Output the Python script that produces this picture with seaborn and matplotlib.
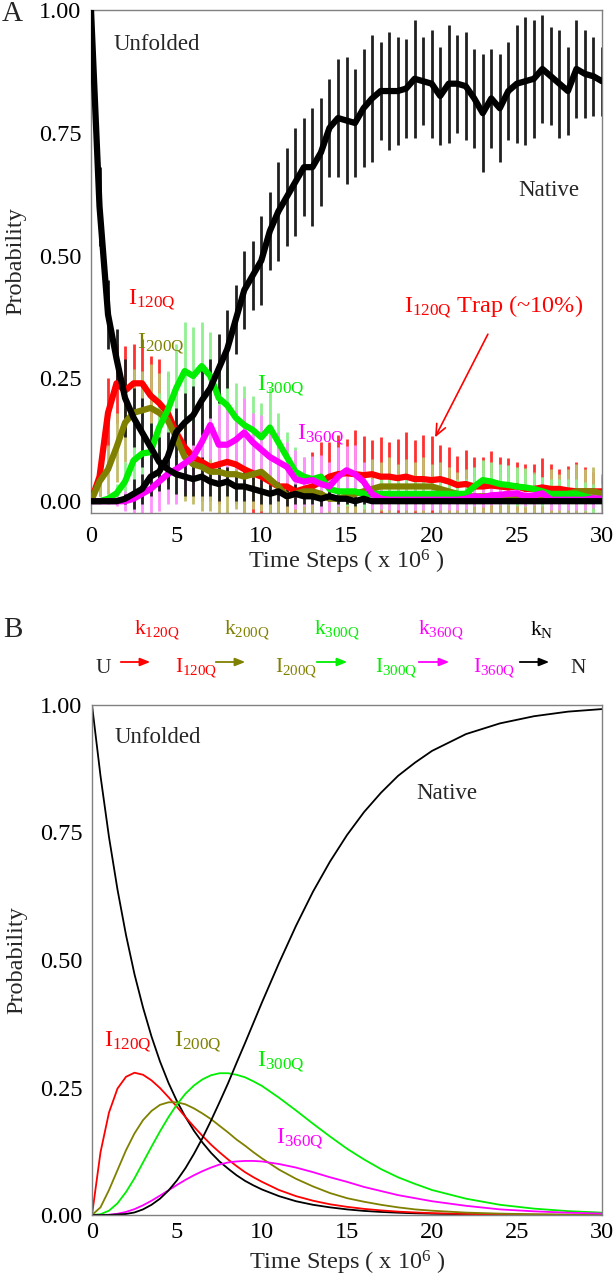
import numpy as np
import matplotlib
matplotlib.use("Agg")
import matplotlib.pyplot as plt
from matplotlib.ticker import FormatStrFormatter
import seaborn as sns

# ---------------- Panel A data (simulation, step 0.5 x 10^6) ----------------
time_a = np.arange(0, 30.01, 0.5)

unfolded_a = [1.00, 0.60, 0.38, 0.29, 0.21, 0.17, 0.14, 0.11, 0.08, 0.065,
              0.055, 0.05, 0.045, 0.05, 0.04, 0.035, 0.04, 0.03, 0.03, 0.025,
              0.02, 0.015, 0.02, 0.01, 0.015, 0.01, 0.01, 0.005, 0.01, 0.005,
              0.005, 0.0, 0.005, 0.0, 0.0, 0.0, 0.0, 0.0, 0.0, 0.0,
              0.0, 0.0, 0.0, 0.0, 0.0, 0.0, 0.0, 0.0, 0.0, 0.0,
              0.0, 0.0, 0.0, 0.0, 0.0, 0.0, 0.0, 0.0, 0.0, 0.0,
              0.0]
unfolded_err = [0.0, 0.08, 0.07, 0.06, 0.08, 0.06, 0.07, 0.05, 0.05, 0.04,
                0.04, 0.04, 0.035, 0.04, 0.03, 0.035, 0.03, 0.03, 0.03, 0.025,
                0.025, 0.02, 0.02, 0.02, 0.02, 0.015, 0.015, 0.015, 0.01, 0.01,
                0.01, 0.01, 0.01, 0.0, 0.0, 0.0, 0.0, 0.0, 0.0, 0.0,
                0.0, 0.0, 0.0, 0.0, 0.0, 0.0, 0.0, 0.0, 0.0, 0.0,
                0.0, 0.0, 0.0, 0.0, 0.0, 0.0, 0.0, 0.0, 0.0, 0.0,
                0.0]

native_a = [0.0, 0.0, 0.0, 0.0, 0.005, 0.015, 0.025, 0.05, 0.06, 0.09,
            0.14, 0.16, 0.175, 0.205, 0.23, 0.27, 0.31, 0.37, 0.43, 0.46,
            0.49, 0.55, 0.59, 0.62, 0.65, 0.68, 0.68, 0.71, 0.76, 0.78,
            0.775, 0.77, 0.80, 0.82, 0.835, 0.835, 0.835, 0.84, 0.86, 0.855,
            0.85, 0.825, 0.85, 0.85, 0.845, 0.82, 0.79, 0.82, 0.80, 0.835,
            0.85, 0.855, 0.86, 0.88, 0.865, 0.85, 0.835, 0.88, 0.87, 0.865,
            0.855]
native_err = [0.0, 0.0, 0.0, 0.0, 0.01, 0.03, 0.03, 0.04, 0.04, 0.05,
              0.05, 0.06, 0.06, 0.07, 0.06, 0.07, 0.08, 0.07, 0.08, 0.07,
              0.09, 0.08, 0.10, 0.10, 0.11, 0.10, 0.12, 0.11, 0.10, 0.12,
              0.13, 0.11, 0.12, 0.13, 0.10, 0.12, 0.11, 0.10, 0.12, 0.09,
              0.11, 0.10, 0.12, 0.10, 0.11, 0.10, 0.12, 0.10, 0.11, 0.10,
              0.12, 0.13, 0.12, 0.11, 0.10, 0.11, 0.09, 0.10, 0.09, 0.08,
              0.07]

i120_a = [0.0, 0.05, 0.18, 0.24, 0.225, 0.24, 0.24, 0.215, 0.20, 0.18,
          0.14, 0.11, 0.09, 0.08, 0.07, 0.075, 0.08, 0.075, 0.065, 0.057,
          0.05, 0.04, 0.03, 0.03, 0.02, 0.025, 0.03, 0.04, 0.05, 0.055,
          0.057, 0.055, 0.053, 0.055, 0.05, 0.05, 0.047, 0.05, 0.045, 0.045,
          0.043, 0.045, 0.04, 0.033, 0.035, 0.03, 0.03, 0.032, 0.03, 0.028,
          0.03, 0.025, 0.025, 0.028, 0.025, 0.025, 0.022, 0.02, 0.02, 0.02,
          0.02]
i120_err = [0.0, 0.04, 0.07, 0.08, 0.09, 0.08, 0.09, 0.08, 0.09, 0.08,
            0.09, 0.08, 0.07, 0.08, 0.07, 0.08, 0.07, 0.08, 0.09, 0.08,
            0.09, 0.08, 0.07, 0.06, 0.07, 0.06, 0.07, 0.08, 0.07, 0.08,
            0.07, 0.09, 0.08, 0.07, 0.08, 0.07, 0.08, 0.09, 0.08, 0.09,
            0.09, 0.07, 0.07, 0.06, 0.07, 0.06, 0.06, 0.07, 0.06, 0.06,
            0.05, 0.05, 0.05, 0.06, 0.05, 0.04, 0.05, 0.06, 0.05, 0.04,
            0.03]

i200_a = [0.0, 0.04, 0.065, 0.11, 0.16, 0.18, 0.185, 0.19, 0.18, 0.165,
          0.13, 0.09, 0.075, 0.07, 0.06, 0.06, 0.055, 0.055, 0.05, 0.055,
          0.06, 0.045, 0.03, 0.01, 0.015, 0.02, 0.02, 0.015, 0.005, 0.005,
          0.01, 0.015, 0.02, 0.025, 0.03, 0.03, 0.03, 0.03, 0.03, 0.03,
          0.03, 0.025, 0.02, 0.015, 0.01, 0.01, 0.01, 0.01, 0.01, 0.01,
          0.01, 0.01, 0.01, 0.01, 0.01, 0.01, 0.015, 0.02, 0.02, 0.02,
          0.015]
i200_err = [0.0, 0.03, 0.05, 0.07, 0.08, 0.09, 0.08, 0.09, 0.08, 0.09,
            0.08, 0.09, 0.08, 0.09, 0.08, 0.09, 0.08, 0.07, 0.08, 0.07,
            0.08, 0.07, 0.06, 0.05, 0.06, 0.05, 0.06, 0.05, 0.06, 0.05,
            0.05, 0.06, 0.045, 0.06, 0.05, 0.06, 0.045, 0.055, 0.05, 0.06,
            0.045, 0.055, 0.05, 0.045, 0.055, 0.04, 0.055, 0.045, 0.05, 0.04,
            0.055, 0.045, 0.05, 0.04, 0.055, 0.045, 0.05, 0.055, 0.045, 0.05,
            0.04]

i300_a = [0.0, 0.0, 0.005, 0.016, 0.04, 0.083, 0.097, 0.10, 0.15, 0.185,
          0.23, 0.265, 0.255, 0.275, 0.255, 0.21, 0.195, 0.17, 0.155, 0.145,
          0.13, 0.15, 0.12, 0.09, 0.06, 0.05, 0.045, 0.05, 0.025, 0.02,
          0.02, 0.02, 0.015, 0.015, 0.015, 0.015, 0.015, 0.015, 0.015, 0.015,
          0.015, 0.015, 0.015, 0.015, 0.015, 0.03, 0.043, 0.04, 0.035, 0.033,
          0.03, 0.028, 0.025, 0.02, 0.015, 0.015, 0.015, 0.015, 0.01, 0.005,
          0.005]
i300_err = [0.0, 0.005, 0.01, 0.02, 0.04, 0.05, 0.06, 0.06, 0.07, 0.08,
            0.09, 0.10, 0.10, 0.09, 0.09, 0.08, 0.08, 0.07, 0.08, 0.07,
            0.07, 0.08, 0.06, 0.05, 0.05, 0.04, 0.04, 0.04, 0.03, 0.03,
            0.03, 0.03, 0.03, 0.03, 0.03, 0.03, 0.03, 0.03, 0.03, 0.03,
            0.03, 0.03, 0.03, 0.03, 0.03, 0.04, 0.04, 0.04, 0.04, 0.04,
            0.04, 0.04, 0.03, 0.03, 0.03, 0.03, 0.03, 0.03, 0.03, 0.03,
            0.03]

i360_a = [0.0, 0.0, 0.0, 0.0, 0.0, 0.005, 0.015, 0.025, 0.04, 0.055,
          0.065, 0.077, 0.09, 0.12, 0.155, 0.115, 0.115, 0.125, 0.14, 0.12,
          0.105, 0.09, 0.08, 0.07, 0.045, 0.04, 0.043, 0.035, 0.03, 0.05,
          0.063, 0.055, 0.04, 0.015, 0.005, 0.003, 0.003, 0.003, 0.003, 0.003,
          0.003, 0.003, 0.003, 0.003, 0.005, 0.01, 0.008, 0.012, 0.013, 0.015,
          0.016, 0.01, 0.012, 0.016, 0.003, 0.003, 0.003, 0.003, 0.003, 0.006,
          0.005]
i360_err = [0.0, 0.0, 0.0, 0.01, 0.02, 0.03, 0.04, 0.05, 0.06, 0.06,
            0.07, 0.06, 0.07, 0.08, 0.07, 0.08, 0.07, 0.06, 0.07, 0.06,
            0.07, 0.06, 0.06, 0.05, 0.06, 0.05, 0.05, 0.06, 0.05, 0.06,
            0.05, 0.06, 0.04, 0.03, 0.02, 0.02, 0.02, 0.02, 0.02, 0.02,
            0.02, 0.02, 0.02, 0.02, 0.02, 0.02, 0.02, 0.02, 0.02, 0.02,
            0.02, 0.02, 0.02, 0.02, 0.02, 0.02, 0.02, 0.02, 0.02, 0.02,
            0.02]

# ---------------- Panel B data (kinetic model curves) ----------------
time_b = [0, 0.5, 1, 1.5, 2, 2.5, 3, 3.5, 4, 4.5, 5, 5.5, 6, 6.5, 7, 7.5, 8, 8.5, 9, 9.5, 10,
          11, 12, 13, 14, 15, 16, 17, 18, 19, 20, 22, 24, 26, 28, 30]
unfolded_b = [1.000, 0.861, 0.741, 0.638, 0.549, 0.472, 0.407, 0.350, 0.301, 0.259, 0.223,
              0.192, 0.165, 0.142, 0.122, 0.105, 0.091, 0.078, 0.067, 0.058, 0.050,
              0.037, 0.027, 0.020, 0.015, 0.011, 0.008, 0.006, 0.0045, 0.0033, 0.0025,
              0.0014, 0.0007, 0.0004, 0.0002, 0.0001]
i120_b = [0.0, 0.123, 0.201, 0.248, 0.271, 0.279, 0.275, 0.264, 0.249, 0.231, 0.212,
          0.192, 0.173, 0.155, 0.138, 0.123, 0.109, 0.096, 0.084, 0.074, 0.065,
          0.049, 0.037, 0.028, 0.021, 0.016, 0.012, 0.009, 0.0066, 0.005, 0.0037,
          0.002, 0.0011, 0.0006, 0.0003, 0.0002]
i200_b = [0.0, 0.015, 0.049, 0.088, 0.127, 0.160, 0.186, 0.204, 0.216, 0.221, 0.221,
          0.217, 0.209, 0.199, 0.188, 0.175, 0.162, 0.148, 0.136, 0.123, 0.111,
          0.089, 0.071, 0.056, 0.043, 0.033, 0.026, 0.020, 0.015, 0.011, 0.0084,
          0.0047, 0.0027, 0.0015, 0.0008, 0.0005]
i300_b = [0.0, 0.0015, 0.0085, 0.023, 0.045, 0.072, 0.103, 0.134, 0.164, 0.192, 0.217,
          0.238, 0.254, 0.266, 0.274, 0.278, 0.278, 0.275, 0.270, 0.262, 0.253,
          0.230, 0.205, 0.179, 0.154, 0.130, 0.109, 0.090, 0.074, 0.061, 0.049,
          0.032, 0.020, 0.0125, 0.0076, 0.0046]
i360_b = [0.0, 0.0001, 0.0006, 0.0024, 0.006, 0.0115, 0.019, 0.028, 0.038, 0.0485, 0.059,
          0.069, 0.078, 0.086, 0.093, 0.099, 0.103, 0.105, 0.106, 0.106, 0.105,
          0.100, 0.093, 0.084, 0.074, 0.065, 0.055, 0.047, 0.039, 0.033, 0.027,
          0.018, 0.011, 0.0072, 0.0045, 0.0028]
native_b = [0.0, 0.0, 0.0001, 0.001, 0.002, 0.005, 0.011, 0.020, 0.032, 0.048, 0.068,
            0.092, 0.120, 0.151, 0.185, 0.221, 0.258, 0.298, 0.337, 0.377, 0.417,
            0.494, 0.567, 0.634, 0.693, 0.745, 0.790, 0.828, 0.861, 0.887, 0.910,
            0.943, 0.964, 0.978, 0.987, 0.992]

x_ticks = [0, 5, 10, 15, 20, 25, 30]
y_ticks = [0.0, 0.25, 0.50, 0.75, 1.00]

# ---------------- Style ----------------
sns.set_style("white")
plt.rcParams['font.family'] = ['Liberation Serif', 'DejaVu Serif']
plt.rcParams['mathtext.fontset'] = 'custom'
plt.rcParams['mathtext.rm'] = 'Liberation Serif'
plt.rcParams['mathtext.it'] = 'Liberation Serif:italic'

RED = '#ff0000'
OLIVE = '#808000'
GREEN = '#00ee00'
MAGENTA = '#ff00ff'

W, H = 615, 1280
fig = plt.figure(figsize=(W / 100, H / 100), dpi=100)
axA = fig.add_axes([91 / W, 1 - 513 / H, (602 - 91) / W, (513 - 10) / H])
axB = fig.add_axes([92 / W, 1 - 1215 / H, (602 - 92) / W, (1215 - 705) / H])


def sub(base, s):
    return base + r'$_{\mathregular{' + s + '}}$'


LAB = 17.5  # size of species labels inside panels

# ---------------- Panel A ----------------
series_a = [
    (i120_a, i120_err, RED, '#ff3030'),
    (i200_a, i200_err, OLIVE, '#c2bb6a'),
    (i300_a, i300_err, GREEN, '#90f090'),
    (i360_a, i360_err, MAGENTA, '#ff90ff'),
    (unfolded_a, unfolded_err, 'black', '#202020'),
    (native_a, native_err, 'black', '#202020'),
]
for vals, err, _, ecol in series_a:
    v = np.asarray(vals)
    e = np.asarray(err)
    axA.vlines(time_a, v - e, v + e, colors=ecol, linewidth=2.0, zorder=2)
for vals, err, col, _ in series_a:
    sns.lineplot(x=time_a, y=vals, ax=axA, color=col, linewidth=4.5,
                 errorbar=None, legend=False, zorder=3,
                 solid_capstyle='round', solid_joinstyle='round')

axA.set_ylim(-0.024, 1.0)
axA.text(1.3, 0.93, 'Unfolded', fontsize=16.5, va='center', ha='left')
axA.text(25.1, 0.632, 'Native', fontsize=16.5, va='center', ha='left')
axA.text(2.2, 0.41, sub('I', '120Q'), color=RED, fontsize=LAB, va='center')
axA.text(2.7, 0.32, sub('I', '200Q'), color=OLIVE, fontsize=LAB, va='center')
axA.text(9.75, 0.235, sub('I', '300Q'), color=GREEN, fontsize=LAB, va='center')
axA.text(12.1, 0.135, sub('I', '360Q'), color=MAGENTA, fontsize=LAB, va='center')
axA.text(18.35, 0.395, sub('I', '120Q') + ' Trap (~10%)', color=RED, fontsize=LAB, va='center')
axA.annotate('', xy=(20.2, 0.13), xytext=(23.3, 0.34),
             arrowprops=dict(arrowstyle='->,head_length=0.8,head_width=0.35',
                             color=RED, lw=1.2, shrinkA=0, shrinkB=0))

# ---------------- Panel B ----------------
for vals, col in [(unfolded_b, 'black'), (i120_b, RED), (i200_b, OLIVE),
                  (i300_b, GREEN), (i360_b, MAGENTA), (native_b, 'black')]:
    sns.lineplot(x=time_b, y=vals, ax=axB, color=col, linewidth=1.3,
                 errorbar=None, legend=False)
axB.set_ylim(0, 1.0)
axB.text(1.35, 0.937, 'Unfolded', fontsize=16.5, va='center', ha='left')
axB.text(19.1, 0.827, 'Native', fontsize=16.5, va='center', ha='left')
axB.text(0.7, 0.34, sub('I', '120Q'), color=RED, fontsize=LAB, va='center')
axB.text(4.8, 0.34, sub('I', '200Q'), color=OLIVE, fontsize=LAB, va='center')
axB.text(9.7, 0.30, sub('I', '300Q'), color=GREEN, fontsize=LAB, va='center')
axB.text(10.8, 0.15, sub('I', '360Q'), color=MAGENTA, fontsize=LAB, va='center')

# ---------------- Common axis styling ----------------
for ax, xpad, xlabpad in [(axA, 9, 1), (axB, 5, 4)]:
    ax.set_xlim(0, 30)
    ax.set_xticks(x_ticks)
    ax.set_yticks(y_ticks)
    ax.yaxis.set_major_formatter(FormatStrFormatter('%.2f'))
    ax.tick_params(axis='both', direction='in', length=7, width=1,
                   color='#808080', labelsize=17.5, labelcolor='black')
    ax.tick_params(axis='x', pad=xpad)
    ax.tick_params(axis='y', pad=7)
    for s in ax.spines.values():
        s.set_color('#808080')
        s.set_linewidth(1)
        s.set_visible(True)
    ax.set_ylabel('Probability', fontsize=17.5, labelpad=9)
    ax.set_xlabel(r'Time Steps ( x 10$^{\mathregular{6}}$ )', fontsize=17.5, labelpad=xlabpad)

# ---------------- Panel letters and kinetic scheme ----------------
def fx(px):
    return px / W


def fy(py):
    return 1 - py / H


fig.text(fx(2), fy(14), 'A', fontsize=21, va='center', ha='left')
fig.text(fx(3), fy(630), 'B', fontsize=21, va='center', ha='left')

row_base = 673
k_base = 635
fig.text(fx(103), fy(row_base), 'U', fontsize=15.5, ha='center', va='baseline')
fig.text(fx(578), fy(row_base), 'N', fontsize=15.5, ha='center', va='baseline')
for px, lab, col in [(175, '120Q', RED), (275, '200Q', OLIVE), (375, '300Q', GREEN), (473, '360Q', MAGENTA)]:
    fig.text(fx(px), fy(row_base), sub('I', lab), color=col, fontsize=15.5, ha='left', va='baseline')
for px, lab, col in [(134, '120Q', RED), (224, '200Q', OLIVE), (314, '300Q', GREEN),
                     (418, '360Q', MAGENTA), (530, 'N', 'black')]:
    fig.text(fx(px), fy(k_base), sub('k', lab), color=col, fontsize=15.5, ha='left', va='baseline')
for x0, x1, col in [(118, 153, RED), (213, 248, OLIVE), (314, 350, GREEN),
                    (416, 452, MAGENTA), (517, 552, 'black')]:
    fig.add_artist(matplotlib.patches.FancyArrowPatch(
        (fx(x0), fy(662)), (fx(x1), fy(662)), transform=fig.transFigure,
        arrowstyle='-|>,head_length=0.5,head_width=0.2', mutation_scale=12,
        color=col, lw=1.3))

fig.savefig('out.png', dpi=100)
